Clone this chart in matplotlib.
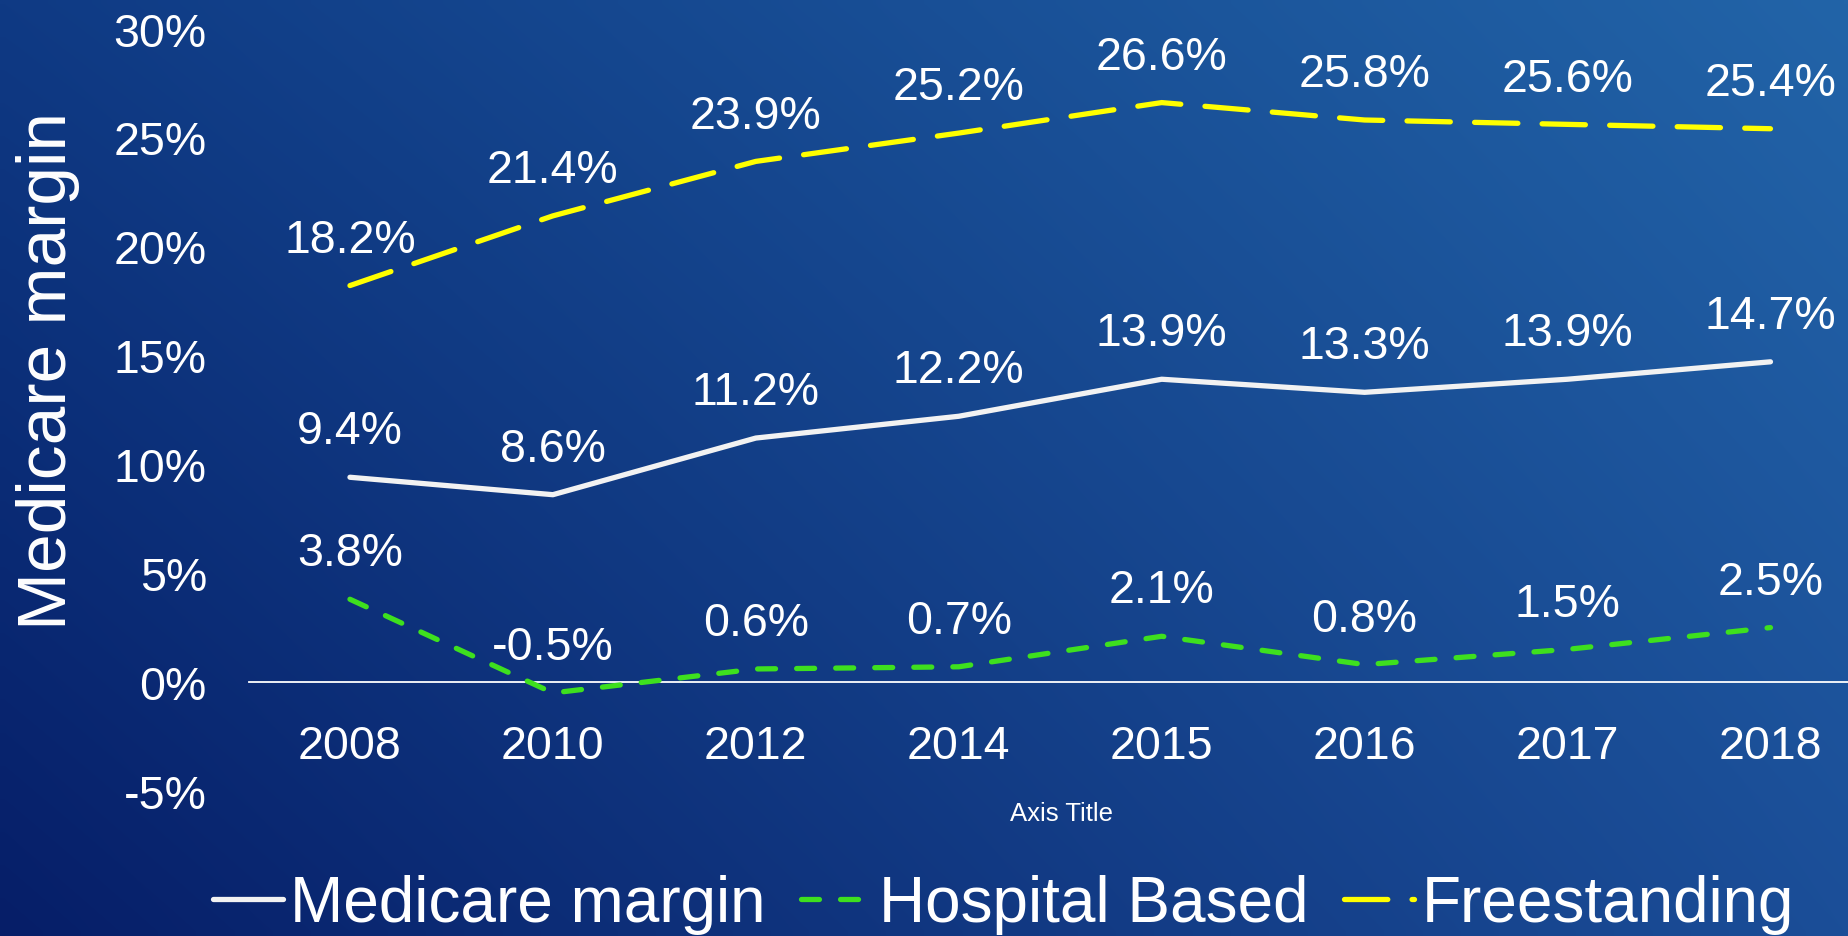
import matplotlib
matplotlib.use("Agg")
import matplotlib.pyplot as plt
import numpy as np
from matplotlib.colors import to_rgb

# Datos
years = ["2008", "2010", "2012", "2014", "2015", "2016", "2017", "2018"]
medicare_margin = [9.4, 8.6, 11.2, 12.2, 13.9, 13.3, 13.9, 14.7]
hospital_based = [3.8, -0.5, 0.6, 0.7, 2.1, 0.8, 1.5, 2.5]
freestanding = [18.2, 21.4, 23.9, 25.2, 26.6, 25.8, 25.6, 25.4]
y_ticks = [-5, 0, 5, 10, 15, 20, 25, 30]

plt.rcParams['font.family'] = ['Liberation Sans', 'DejaVu Sans']

fig = plt.figure(figsize=(18.49, 9.37), dpi=100)

# Fondo con degradado (oscuro abajo-izquierda, claro arriba-derecha)
tl = np.array(to_rgb("#0f3a84"))
tr = np.array(to_rgb("#2264a8"))
bl = np.array(to_rgb("#061e68"))
br = np.array(to_rgb("#1b4e98"))
u = np.linspace(0, 1, 200)[None, :, None]
v = np.linspace(0, 1, 100)[:, None, None]  # 0 arriba, 1 abajo
grad = (1 - v) * ((1 - u) * tl + u * tr) + v * ((1 - u) * bl + u * br)
ax_bg = fig.add_axes([0, 0, 1, 1])
ax_bg.imshow(grad, aspect="auto", interpolation="bilinear", extent=[0, 1, 0, 1])
ax_bg.set_axis_off()

ax = fig.add_axes([0.1344, 0.1548, 0.878, 0.8137])
ax.patch.set_alpha(0)

x = np.arange(len(years))
lw = 3.8
ax.plot(x, medicare_margin, color="#f2f2f2", lw=lw, solid_capstyle="round",
        label="Medicare margin", zorder=3)
ax.plot(x, hospital_based, color="#3ee01e", lw=lw, dashes=(3.4, 4.0),
        dash_capstyle="round", label="Hospital Based", zorder=3)
ax.plot(x, freestanding, color="#ffff00", lw=lw, dashes=(8.2, 4.6),
        dash_capstyle="round", label="Freestanding", zorder=3)

# Etiquetas de datos
for serie in (medicare_margin, hospital_based, freestanding):
    for xi, val in zip(x, serie):
        ax.annotate(f"{val:.1f}%", (xi, val), xytext=(0, 33),
                    textcoords="offset points", ha="center", va="center",
                    color="white", fontsize=33.5, zorder=4)

ax.set_xlim(-0.5, len(years) - 0.5)
ax.set_ylim(-5, 30)
ax.set_yticks(y_ticks)
ax.set_yticklabels([f"{t}%" for t in y_ticks])
ax.set_xticks(x)
ax.set_xticklabels(years)

for s in ("left", "right", "top"):
    ax.spines[s].set_visible(False)
ax.spines["bottom"].set_position(("data", 0))
ax.spines["bottom"].set_color("white")
ax.spines["bottom"].set_linewidth(1.3)

ax.tick_params(axis="y", length=0, pad=30, colors="white", labelsize=33.5)
ax.tick_params(axis="x", length=0, pad=30, colors="white", labelsize=33.5)

ax.set_ylabel("Medicare margin", color="white", fontsize=50)
ax.yaxis.set_label_coords(-0.104, 0.552)

fig.text(0.574, 0.131, "Axis Title", color="white", fontsize=18.5,
         ha="center", va="center")

leg = fig.legend(loc="center", bbox_to_anchor=(0.5426, 0.034), ncol=3,
                 frameon=False, fontsize=46, handlelength=1.1,
                 handletextpad=0.12, columnspacing=0.55, borderpad=0)
for t in leg.get_texts():
    t.set_color("white")

fig.savefig("out.png", dpi=100)
